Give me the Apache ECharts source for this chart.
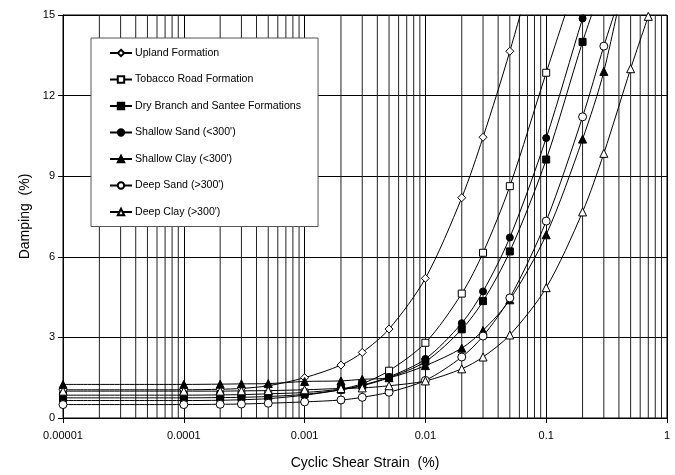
<!DOCTYPE html>
<html>
<head>
<meta charset="utf-8">
<script src="https://cdn.jsdelivr.net/npm/echarts@6/dist/echarts.min.js"></script>
<style>
html,body{margin:0;padding:0;background:#fff;}
#chart{width:675px;height:475px;}
</style>
</head>
<body>
<div id="chart"></div>
<script>
// Strain values (%)
const strainA = [0.00001, 0.0001, 0.0002, 0.0003, 0.0005, 0.001, 0.002, 0.003, 0.005, 0.01, 0.02, 0.03, 0.05, 0.1, 0.2, 0.3, 0.5, 0.7];

const seriesNames = [
  "Upland Formation",
  "Tobacco Road Formation",
  "Dry Branch and Santee Formations",
  "Shallow Sand (<300')",
  "Shallow Clay (<300')",
  "Deep Sand (>300')",
  "Deep Clay (>300')"
];

// Damping (%) values
const upland      = [1.05, 1.05, 1.07, 1.10, 1.20, 1.50, 1.97, 2.44, 3.31, 5.20, 8.20, 10.45, 13.65, 18.5];
const tobacco     = [0.85, 0.85, 0.86, 0.87, 0.90, 0.95, 1.08, 1.28, 1.76, 2.80, 4.63, 6.15, 8.63, 12.85, 17.0];
const dryBranch   = [0.75, 0.75, 0.76, 0.77, 0.80, 0.88, 1.05, 1.20, 1.50, 2.10, 3.30, 4.35, 6.20, 9.62, 14.0, 16.3];
const shallowSand = [0.65, 0.65, 0.66, 0.68, 0.72, 0.85, 1.05, 1.22, 1.53, 2.20, 3.53, 4.71, 6.72, 10.42, 14.87, 17.3];
const shallowClay = [1.25, 1.25, 1.26, 1.27, 1.28, 1.36, 1.38, 1.44, 1.50, 1.95, 2.60, 3.26, 4.40, 6.82, 10.38, 12.9, 17.5];
const deepSand    = [0.50, 0.50, 0.51, 0.52, 0.55, 0.60, 0.67, 0.77, 0.96, 1.40, 2.27, 3.05, 4.47, 7.33, 11.21, 13.84, 16.9];
const deepClay    = [1.00, 1.00, 1.00, 1.01, 1.02, 1.05, 1.10, 1.12, 1.20, 1.38, 1.83, 2.27, 3.09, 4.85, 7.67, 9.85, 13.0, 14.95];

const xTickLabels = ["0.00001", "0.0001", "0.001", "0.01", "0.1", "1"];
const yTicks = [0, 3, 6, 9, 12, 15];
const minorMultipliers = [2, 3, 4, 5, 6, 7, 8, 9];
const decades = [0.00001, 0.0001, 0.001, 0.01, 0.1];

const valueSets = [upland, tobacco, dryBranch, shallowSand, shallowClay, deepSand, deepClay];
const symbols = ["diamond", "rect", "rect", "circle", "triangle", "circle", "triangle"];
const filled = [false, false, true, true, true, false, false];
const sizes = [8, 7, 7, 7, 8, 8, 8];

// minor log grid lines as broken polyline through the axis scales
const minorGridData = [];
decades.forEach(d => minorMultipliers.forEach(m => {
  const v = +(d * m).toPrecision(6);
  minorGridData.push([v, 0], [v, 15], [v, '-']);
}));

const FONT = "Liberation Sans, Arial, sans-serif";

const series = [{
  name: "minorgrid",
  type: "line",
  data: minorGridData,
  z: 1,
  silent: true,
  symbol: "none",
  smooth: false,
  connectNulls: false,
  clip: true,
  lineStyle: {color: "#222", width: 1},
  emphasis: {disabled: true}
}];

valueSets.forEach((vals, i) => series.push({
  name: seriesNames[i],
  type: "line",
  data: vals.map((v, k) => [strainA[k], v]),
  symbol: symbols[i],
  symbolSize: sizes[i],
  smooth: 0.3,
  clip: true,
  z: 3,
  lineStyle: {color: "#000", width: 1},
  itemStyle: {color: filled[i] ? "#000" : "#fff", borderColor: "#000", borderWidth: 1},
  emphasis: {disabled: true}
}));

const chart = echarts.init(document.getElementById("chart"), null, {renderer: "canvas"});
chart.setOption({
  animation: false,
  backgroundColor: "#fff",
  textStyle: {fontFamily: FONT},
  grid: {left: 63, right: 8, top: 15, bottom: 56, show: true, borderColor: "#000", borderWidth: 1},
  legend: {
    data: seriesNames,
    orient: "vertical",
    left: 91,
    top: 38,
    padding: [9.5, 17, 9, 18],
    itemWidth: 22,
    itemHeight: 8,
    itemGap: 15.5,
    backgroundColor: "#fff",
    borderColor: "#555",
    borderWidth: 1,
    textStyle: {fontFamily: FONT, fontSize: 10.6, color: "#000", padding: [0, 0, 0, -2]},
    selectedMode: false
  },
  xAxis: {
    type: "log",
    logBase: 10,
    min: 0.00001,
    max: 1,
    name: "Cyclic Shear Strain  (%)",
    nameLocation: "middle",
    nameGap: 38,
    nameTextStyle: {fontFamily: FONT, fontSize: 14, color: "#000"},
    axisLine: {show: true, lineStyle: {color: "#000", width: 1}},
    axisTick: {show: true, inside: false, length: 5, lineStyle: {color: "#000"}},
    axisLabel: {
      fontFamily: FONT, fontSize: 11, color: "#000", margin: 12,
      formatter: v => xTickLabels[Math.round(Math.log10(v)) + 5]
    },
    splitLine: {show: true, lineStyle: {color: "#000", width: 1}},
    minorTick: {show: false},
    minorSplitLine: {show: false}
  },
  yAxis: {
    type: "value",
    min: 0,
    max: 15,
    interval: 3,
    name: "Damping  (%)",
    nameLocation: "middle",
    nameGap: 30,
    nameTextStyle: {fontFamily: FONT, fontSize: 14, color: "#000"},
    axisLine: {show: true, lineStyle: {color: "#000", width: 1}},
    axisTick: {show: true, inside: false, length: 5, lineStyle: {color: "#000"}},
    axisLabel: {
      fontFamily: FONT, fontSize: 11, color: "#000", margin: 8,
      formatter: v => String(yTicks[Math.round(v / 3)])
    },
    splitLine: {show: true, lineStyle: {color: "#000", width: 1}}
  },
  series: series
});
</script>
</body>
</html>
